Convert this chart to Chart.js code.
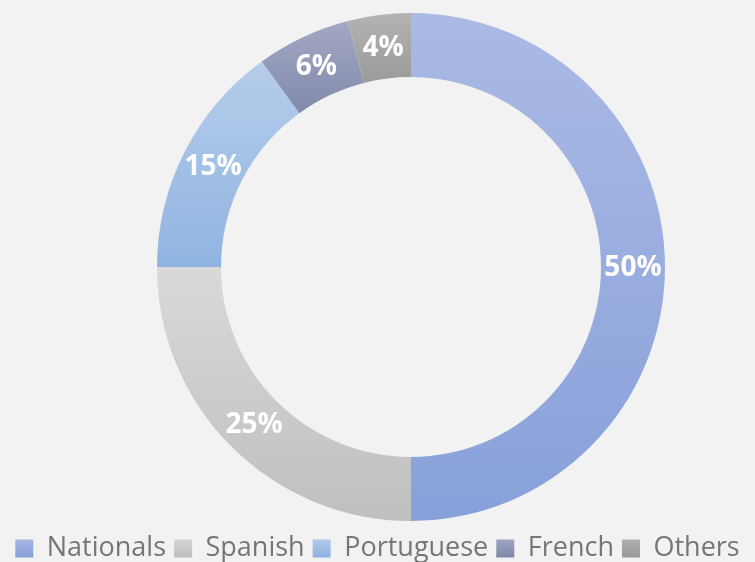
<!DOCTYPE html>
<html>
<head>
<meta charset="utf-8">
<script src="https://cdn.jsdelivr.net/npm/chart.js@4"></script>
<style>
  html, body { margin: 0; padding: 0; background: #f2f2f2; }
  .chart-shell { width: 755px; height: 562px; position: relative; }
</style>
</head>
<body>
<div class="chart-shell"><canvas id="chart"></canvas></div>
<script>
const categories = ["Nationals", "Spanish", "Portuguese", "French", "Others"];
const shares = [50, 25, 15, 6, 4];
const percentLabels = ["50%", "25%", "15%", "6%", "4%"];

// light (top) -> dark (bottom) colour per slice
const topColors = ["#aabae4", "#d9d9d9", "#b6cdea", "#a3a9c4", "#b3b3b3"];
const bottomColors = ["#88a0da", "#bfbfbf", "#90b4e2", "#8189ab", "#9a9a9a"];

const CUTOUT = 0.748;

// vertical extent of a ring slice, used for an Excel-like gradient
function sliceExtent(chart, index) {
  const area = chart.chartArea;
  const cy = (area.top + area.bottom) / 2;
  const outer = Math.min(area.right - area.left, area.bottom - area.top) / 2;
  const inner = outer * CUTOUT;
  const total = shares.reduce((a, b) => a + b, 0);
  let start = -Math.PI / 2;
  for (let i = 0; i < index; i++) start += (shares[i] / total) * Math.PI * 2;
  const end = start + (shares[index] / total) * Math.PI * 2;
  const ys = [];
  [start, end].forEach((a) => {
    ys.push(cy + Math.sin(a) * outer, cy + Math.sin(a) * inner);
  });
  [Math.PI / 2, Math.PI * 1.5, -Math.PI / 2].forEach((a) => {
    if (a > start && a < end) ys.push(cy + Math.sin(a) * outer);
  });
  return [Math.min(...ys), Math.max(...ys)];
}

function sliceFill(context) {
  const chart = context.chart;
  const i = context.dataIndex;
  if (!chart.chartArea || i === undefined) return topColors[i] || "#999";
  const [y0, y1] = sliceExtent(chart, i);
  const g = chart.ctx.createLinearGradient(0, y0, 0, y1);
  g.addColorStop(0, topColors[i]);
  g.addColorStop(1, bottomColors[i]);
  return g;
}

// ring box in the reference: centre (411, 267), outer radius 254
const ringBox = {
  id: "ringBox",
  afterLayout(chart) {
    const a = chart.chartArea;
    a.left = 157;
    a.right = 665;
    a.top = 13;
    a.bottom = 521;
    a.width = a.right - a.left;
    a.height = a.bottom - a.top;
    if (chart.legend) {
      chart.legend.top += 10;
      chart.legend.bottom += 10;
    }
  },
};

const percentLabelPlugin = {
  id: "percentLabels",
  afterDatasetsDraw(chart) {
    const { ctx } = chart;
    const meta = chart.getDatasetMeta(0);
    ctx.save();
    ctx.fillStyle = "#ffffff";
    ctx.font = "bold 28px 'Open Sans', sans-serif";
    ctx.textAlign = "center";
    ctx.textBaseline = "middle";
    meta.data.forEach((arc, i) => {
      const p = arc.tooltipPosition();
      ctx.fillText(percentLabels[i], p.x, p.y + 1);
    });
    ctx.restore();
  },
};

new Chart(document.getElementById("chart"), {
  type: "doughnut",
  data: {
    labels: categories,
    datasets: [
      {
        data: shares,
        backgroundColor: sliceFill,
        borderWidth: 0,
      },
    ],
  },
  options: {
    responsive: true,
    maintainAspectRatio: false,
    animation: false,
    cutout: (CUTOUT * 100) + "%",
    layout: { padding: 0 },
    plugins: {
      legend: {
        display: true,
        position: "bottom",
        labels: {
          color: "#767676",
          boxWidth: 18,
          boxHeight: 18,
          padding: 8,
          font: { family: "'Open Sans', sans-serif", size: 27 },
          generateLabels(chart) {
            return categories.map((name, i) => {
              const g = chart.ctx.createLinearGradient(0, 537, 0, 556);
              g.addColorStop(0, topColors[i]);
              g.addColorStop(1, bottomColors[i]);
              return {
                text: name,
                fillStyle: g,
                strokeStyle: "rgba(0,0,0,0)",
                lineWidth: 0,
                fontColor: "#767676",
                index: i,
              };
            });
          },
        },
      },
      tooltip: { enabled: false },
    },
  },
  plugins: [ringBox, percentLabelPlugin],
});
</script>
</body>
</html>
